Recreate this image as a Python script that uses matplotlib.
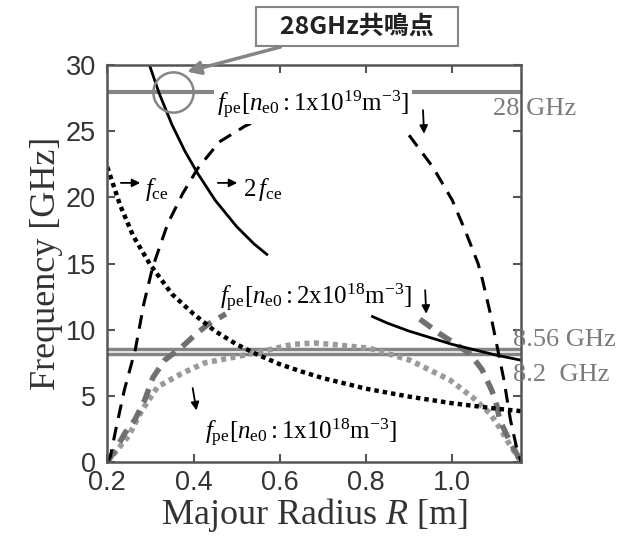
import matplotlib
matplotlib.use('Agg')
from matplotlib import pyplot as plt

nan = float('nan')

# ---- data (R in m, f in GHz); nan = hidden behind a label ----
R_fce = [0.20, 0.23, 0.26, 0.30, 0.35, 0.40, 0.45, 0.50, 0.55, 0.60, 0.65, 0.70,
         0.75, 0.80, 0.85, 0.90, 0.95, 1.00, 1.05, 1.10, 1.16]
f_fce = [22.3, 19.4, 17.1, 14.9, 12.7, 11.2, 9.9, 8.9, 8.1, 7.4, 6.85, 6.35,
         5.95, 5.55, 5.25, 4.95, 4.7, 4.45, 4.25, 4.05, 3.85]

R_2fce = [0.29, 0.30, 0.32, 0.35, 0.38, 0.41, 0.45, 0.50, 0.54, 0.57, 0.70,
          0.815, 0.85, 0.90, 0.95, 1.00, 1.05, 1.10, 1.16]
f_2fce = [30.8, 29.8, 27.9, 25.5, 23.5, 21.8, 19.8, 17.8, 16.5, 15.7, nan,
          11.0, 10.5, 9.9, 9.4, 8.9, 8.5, 8.1, 7.7]

R_pe19 = [0.20, 0.207, 0.22, 0.24, 0.265, 0.285, 0.305, 0.34, 0.375, 0.41, 0.46, 0.52,
          0.56, 0.68, 0.90, 0.955, 1.00, 1.03, 1.06, 1.07, 1.09, 1.105, 1.12, 1.135,
          1.15, 1.16]
f_pe19 = [0.0, 0.4, 2.5, 5.5, 8.5, 12.0, 14.7, 18.0, 20.3, 22.2, 24.2, 25.4,
          26.0, nan, 24.7, 22.3, 19.8, 17.5, 15.0, 13.8, 11.0, 8.6, 6.2, 3.2,
          1.0, 0.0]

R_pe2e18 = [0.20, 0.222, 0.241, 0.264, 0.287, 0.306, 0.333, 0.373, 0.403, 0.433, 0.475,
            0.68, 0.925, 0.971, 0.995, 1.041, 1.069, 1.092, 1.104, 1.11, 1.13, 1.16]
f_pe2e18 = [0.0, 1.1, 2.2, 3.2, 4.7, 6.4, 7.7, 8.7, 9.6, 10.4, 11.2,
            nan, 10.8, 9.7, 9.2, 8.2, 7.0, 5.4, 4.2, 3.2, 1.8, 0.0]

R_pe1e18 = [0.20, 0.21, 0.23, 0.25, 0.28, 0.317, 0.373, 0.426, 0.489, 0.55, 0.63, 0.68,
            0.72, 0.809, 0.902, 0.995, 1.047, 1.087, 1.11, 1.13, 1.16]
f_pe1e18 = [0.0, 0.4, 1.2, 2.0, 3.9, 5.7, 6.7, 7.5, 7.9, 8.3, 8.9, 9.0,
            8.9, 8.6, 7.7, 6.2, 4.9, 3.7, 2.6, 1.5, 0.0]

ecrh_freqs = [28.0, 8.56, 8.2]
ecrh_labels = ['28 GHz', '8.56 GHz', '8.2  GHz']
resonance_R, resonance_f = 0.352, 28.0

plt.rcParams['font.family'] = ['Liberation Serif', 'DejaVu Serif']
plt.rcParams['mathtext.fontset'] = 'custom'
plt.rcParams['mathtext.rm'] = 'Liberation Serif'
plt.rcParams['mathtext.it'] = 'Liberation Serif:italic'
plt.rcParams['mathtext.bf'] = 'Liberation Serif:bold'

fig = plt.figure(figsize=(6.31, 5.38), dpi=100)
ax = fig.add_axes([0.17, 0.141, 0.656, 0.738])

gray = '#858585'
# ECRH frequency lines
ax.axhline(ecrh_freqs[0], color=gray, lw=3, zorder=1)
ax.axhline(ecrh_freqs[1], color=gray, lw=2.5, zorder=1)
ax.axhline(ecrh_freqs[2], color=gray, lw=2.5, zorder=1)

ax.plot(R_pe1e18, f_pe1e18, color='#9a9a9a', lw=4, dashes=(0.9, 0.8), zorder=2)
ax.plot(R_pe2e18, f_pe2e18, color='#707070', lw=4, dashes=(2.6, 1.6), zorder=2)
ax.plot(R_pe19, f_pe19, color='black', lw=2.2, dashes=(4.5, 3), zorder=2)
ax.plot(R_fce, f_fce, color='black', lw=3.2, dashes=(1, 0.9), zorder=2)
ax.plot(R_2fce, f_2fce, color='black', lw=2, zorder=2)

ax.plot([resonance_R], [resonance_f], 'o', ms=29, mfc='none', mec=gray, mew=1.8, zorder=4)

ax.set_xlim(0.2, 1.16)
ax.set_ylim(0, 30)
ax.set_xticks([0.2, 0.4, 0.6, 0.8, 1.0])
ax.set_xticklabels(['0.2', '0.4', '0.6', '0.8', '1.0'])
ax.set_yticks([0, 5, 10, 15, 20, 25, 30])
ax.tick_params(direction='in', top=True, right=True, length=6, width=1.5,
               color='#555555', labelsize=19.5)
ax.tick_params(axis='x', pad=6)
ax.tick_params(axis='y', pad=8)
for lab in ax.get_xticklabels() + ax.get_yticklabels():
    lab.set_family('Liberation Sans')
    lab.set_color('#333333')
for s in ax.spines.values():
    s.set_color('#555555')
    s.set_linewidth(1.8)

ax.set_xlabel('Majour Radius $R$ [m]', fontsize=26, color='#333333', labelpad=0)
ax.set_ylabel('Frequency [GHz]', fontsize=26, color='#333333', labelpad=2)

# right-hand frequency labels
ax.text(1.094, 26.7, ecrh_labels[0], color='#7a7a7a', fontsize=19, va='center', clip_on=False)
ax.text(1.141, 9.2, ecrh_labels[1], color='#7a7a7a', fontsize=19, va='center', clip_on=False)
ax.text(1.141, 6.6, ecrh_labels[2], color='#7a7a7a', fontsize=19, va='center', clip_on=False)

box = dict(facecolor='white', edgecolor='none', pad=2)
ax.text(0.455, 27.0, r'$f_{\rm pe}[n_{\rm e0}{\rm :1x10}^{19}{\rm m}^{-3}]$',
        fontsize=18, va='center', bbox=box, zorder=3)
ax.text(0.462, 12.4, r'$f_{\rm pe}[n_{\rm e0}{\rm :2x10}^{18}{\rm m}^{-3}]$',
        fontsize=18, va='center', zorder=3)
ax.text(0.426, 2.2, r'$f_{\rm pe}[n_{\rm e0}{\rm :1x10}^{18}{\rm m}^{-3}]$',
        fontsize=18, va='center', bbox=box, zorder=3, clip_on=False)
ax.text(0.287, 20.6, r'$f_{\rm ce}$', fontsize=18, va='center')
ax.text(0.515, 20.6, r'$2\,f_{\rm ce}$', fontsize=18, va='center')

arrow = dict(arrowstyle='-|>', color='black', lw=1.3, mutation_scale=12)
ax.annotate('', xy=(0.283, 21.1), xytext=(0.225, 21.1), arrowprops=arrow)
ax.annotate('', xy=(0.508, 21.1), xytext=(0.45, 21.1), arrowprops=arrow)
ax.annotate('', xy=(0.935, 24.6), xytext=(0.932, 26.8), arrowprops=arrow)
ax.annotate('', xy=(0.94, 11.0), xytext=(0.937, 13.2), arrowprops=arrow)
ax.annotate('', xy=(0.408, 3.7), xytext=(0.397, 5.8), arrowprops=arrow)

# callout box
ax.annotate('   28GHz共鳴点   ', xy=(0.385, 29.5), xytext=(0.779, 32.9),
            fontsize=18, fontweight='bold', family=['Noto Sans CJK JP', 'DejaVu Sans'],
            color='#222222', ha='center', va='center', annotation_clip=False,
            bbox=dict(boxstyle='square,pad=0.3', fc='white', ec=gray, lw=1.5),
            arrowprops=dict(arrowstyle='-|>', color=gray, lw=2.5, mutation_scale=20,
                            shrinkA=0, shrinkB=0))

fig.savefig('out.png', dpi=100)
